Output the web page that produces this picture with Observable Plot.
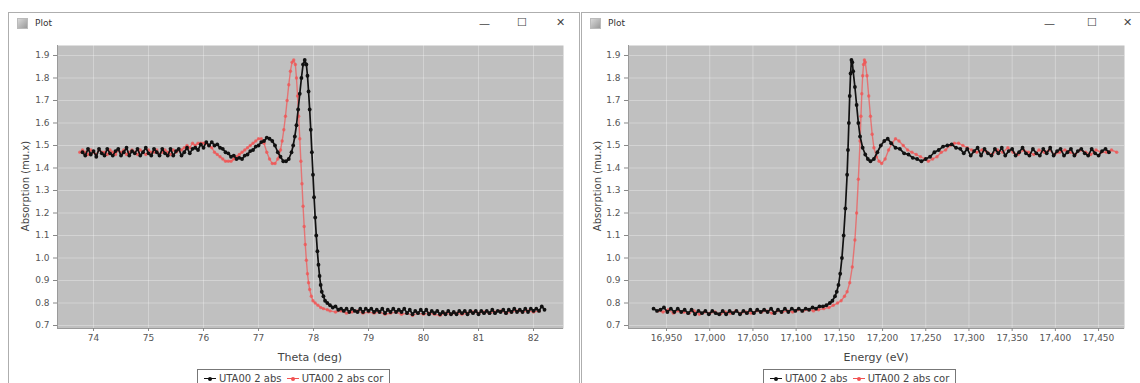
<!DOCTYPE html>
<html><head><meta charset="utf-8">
<script src="https://cdn.jsdelivr.net/npm/d3@7"></script>
<script src="https://cdn.jsdelivr.net/npm/@observablehq/plot@0.6"></script>
<style>
body{margin:0;width:1140px;height:383px;overflow:hidden;background:#fff;position:relative;font-family:"DejaVu Sans",sans-serif}
.win{position:absolute;border:1px solid #aeaeae;background:#fff;box-sizing:border-box}
.abs{position:absolute}
.ttl{font-size:9px;color:#333}
.icon{width:11px;height:11px;background:linear-gradient(135deg,#d8d8d8,#9a9a9a);border:1px solid #bbb;box-sizing:border-box}
.ctl{font-size:11px;color:#444;line-height:11px}
.axl{font-size:11px;color:#444;white-space:nowrap}
.legend{border:1px solid #777;height:18px;box-sizing:border-box;font-size:10px;color:#444;display:flex;align-items:center;justify-content:center;gap:5px;background:#fff}
.sym{display:inline-block;position:relative;width:12px;height:8px;vertical-align:middle}
.sym i{position:absolute;left:0;top:3.5px;width:12px;height:1.3px}
.sym b{position:absolute;left:4px;top:2px;width:4px;height:4px;border-radius:50%}
</style></head>
<body>
<div class="win" style="left:8px;top:12px;width:572px;height:380px"></div>
<div class="win" style="left:581px;top:12px;width:570px;height:380px"></div>
<div class="abs icon" style="left:17px;top:18px"></div>
<div class="abs ttl" style="left:35px;top:18px">Plot</div>
<div class="abs ctl" style="left:479px;top:18px">—</div>
<div class="abs ctl" style="left:517px;top:17px">☐</div>
<div class="abs ctl" style="left:556px;top:17px">✕</div>
<div class="abs icon" style="left:590px;top:18px"></div>
<div class="abs ttl" style="left:608px;top:18px">Plot</div>
<div class="abs ctl" style="left:1044px;top:18px">—</div>
<div class="abs ctl" style="left:1087px;top:17px">☐</div>
<div class="abs ctl" style="left:1123px;top:17px">✕</div>
<div id="c1" class="abs" style="left:8px;top:39px"></div>
<div id="c2" class="abs" style="left:581px;top:39px"></div>
<div class="abs axl" style="left:310px;top:351px;transform:translateX(-50%)">Theta (deg)</div>
<div class="abs axl" style="left:876px;top:351px;transform:translateX(-50%)">Energy (eV)</div>
<div class="abs axl" style="left:25px;top:186px;transform:translate(-50%,-50%) rotate(-90deg);font-size:10px">Absorption (mu.x)</div>
<div class="abs axl" style="left:597px;top:186px;transform:translate(-50%,-50%) rotate(-90deg);font-size:10px">Absorption (mu.x)</div>
<div id="lg1" class="abs legend" style="left:197px;top:369px;width:193px"></div>
<div id="lg2" class="abs legend" style="left:763px;top:369px;width:193px"></div>
<script>
// ---- data ----
const seriesNames = ["UTA00 2 abs", "UTA00 2 abs cor"];
const yTicks = [0.7,0.8,0.9,1.0,1.1,1.2,1.3,1.4,1.5,1.6,1.7,1.8,1.9];
const thetaTicks = [74,75,76,77,78,79,80,81,82];
const energyTicks = [16950,17000,17050,17100,17150,17200,17250,17300,17350,17400,17450];

// Absorption vs theta, black series [theta, abs]
const thetaBlack = [
[73.80,1.47],[73.85,1.455],[73.90,1.485],[73.95,1.46],[74.00,1.475],[74.05,1.45],[74.10,1.485],[74.15,1.465],[74.20,1.455],[74.25,1.485],
[74.30,1.465],[74.35,1.455],[74.40,1.475],[74.45,1.485],[74.50,1.455],[74.55,1.47],[74.60,1.49],[74.65,1.455],[74.70,1.475],[74.75,1.465],
[74.80,1.485],[74.85,1.455],[74.90,1.47],[74.95,1.49],[75.00,1.465],[75.05,1.455],[75.10,1.485],[75.15,1.47],[75.20,1.455],[75.25,1.485],
[75.30,1.465],[75.35,1.455],[75.40,1.485],[75.45,1.455],[75.50,1.475],[75.55,1.485],[75.60,1.455],[75.65,1.47],[75.70,1.49],[75.75,1.465],
[75.80,1.485],[75.85,1.49],[75.90,1.48],[75.95,1.505],[76.00,1.49],[76.05,1.515],[76.10,1.50],[76.15,1.515],[76.20,1.50],[76.25,1.505],
[76.30,1.49],[76.35,1.485],[76.40,1.47],[76.45,1.465],[76.50,1.45],[76.55,1.455],[76.60,1.44],[76.65,1.445],[76.70,1.44],[76.75,1.455],
[76.80,1.46],[76.85,1.475],[76.90,1.48],[76.95,1.495],[77.00,1.50],[77.05,1.515],[77.10,1.52],[77.15,1.535],[77.20,1.53],[77.25,1.52],
[77.30,1.50],[77.35,1.47],[77.40,1.45],[77.45,1.43],[77.50,1.43],[77.55,1.44],[77.60,1.47],[77.63,1.50],[77.66,1.54],[77.69,1.59],
[77.72,1.66],[77.75,1.73],[77.78,1.80],[77.81,1.86],[77.84,1.88],[77.87,1.86],[77.89,1.81],[77.91,1.74],[77.93,1.66],[77.95,1.57],
[77.97,1.47],[77.99,1.37],[78.01,1.27],[78.03,1.18],[78.05,1.10],[78.07,1.03],[78.09,0.97],[78.11,0.92],[78.13,0.88],[78.15,0.85],
[78.18,0.83],[78.21,0.81],[78.25,0.80],[78.30,0.79],[78.35,0.78],[78.40,0.785],[78.45,0.77],[78.50,0.775],
[78.55,0.765],[78.60,0.775],[78.65,0.76],[78.70,0.775],[78.75,0.765],[78.80,0.76],[78.85,0.775],[78.90,0.76],[78.95,0.775],[79.00,0.765],
[79.05,0.775],[79.10,0.76],[79.15,0.77],[79.20,0.76],[79.25,0.775],[79.30,0.755],[79.35,0.77],[79.40,0.76],[79.45,0.775],[79.50,0.76],
[79.55,0.77],[79.60,0.76],[79.65,0.775],[79.70,0.755],[79.75,0.77],[79.80,0.75],[79.85,0.765],[79.90,0.755],[79.95,0.77],[80.00,0.755],
[80.05,0.77],[80.10,0.75],[80.15,0.765],[80.20,0.755],[80.25,0.765],[80.30,0.75],[80.35,0.76],[80.40,0.75],[80.45,0.765],[80.50,0.75],
[80.55,0.76],[80.60,0.75],[80.65,0.765],[80.70,0.755],[80.75,0.765],[80.80,0.75],[80.85,0.765],[80.90,0.755],[80.95,0.765],[81.00,0.75],
[81.05,0.765],[81.10,0.755],[81.15,0.765],[81.20,0.755],[81.25,0.77],[81.30,0.755],[81.35,0.765],[81.40,0.76],[81.45,0.77],[81.50,0.755],
[81.55,0.77],[81.60,0.76],[81.65,0.775],[81.70,0.76],[81.75,0.77],[81.80,0.76],[81.85,0.775],[81.90,0.76],[81.95,0.775],[82.00,0.765],
[82.05,0.775],[82.10,0.765],[82.15,0.785],[82.20,0.77]
];

// Absorption vs theta, red (corrected) series [theta, abs]
const thetaRed = [
[73.75,1.47],[73.80,1.48],[73.85,1.47],[73.90,1.46],[73.95,1.48],[74.00,1.47],[74.05,1.46],[74.10,1.48],[74.15,1.47],[74.20,1.47],
[74.25,1.46],[74.30,1.48],[74.35,1.47],[74.40,1.46],[74.45,1.48],[74.50,1.47],[74.55,1.48],[74.60,1.46],[74.65,1.47],[74.70,1.48],
[74.75,1.47],[74.80,1.46],[74.85,1.48],[74.90,1.47],[74.95,1.46],[75.00,1.48],[75.05,1.47],[75.10,1.47],[75.15,1.48],[75.20,1.46],
[75.25,1.47],[75.30,1.48],[75.35,1.47],[75.40,1.46],[75.45,1.48],[75.50,1.47],[75.55,1.48],
[75.60,1.48],[75.65,1.49],[75.70,1.50],[75.75,1.49],[75.80,1.51],[75.85,1.50],[75.90,1.51],[75.95,1.51],[76.00,1.51],[76.05,1.51],
[76.10,1.50],[76.15,1.49],[76.20,1.47],[76.25,1.46],[76.30,1.45],[76.35,1.44],[76.40,1.43],[76.45,1.43],[76.50,1.43],[76.55,1.44],
[76.60,1.45],[76.65,1.46],[76.70,1.47],[76.75,1.48],[76.80,1.49],[76.85,1.50],[76.90,1.51],[76.95,1.52],[77.00,1.53],[77.05,1.53],
[77.10,1.51],[77.15,1.47],[77.20,1.44],[77.25,1.42],[77.30,1.42],[77.35,1.44],[77.40,1.48],[77.43,1.52],[77.46,1.57],[77.49,1.63],
[77.52,1.70],[77.55,1.77],[77.58,1.83],[77.61,1.87],[77.64,1.88],[77.67,1.86],[77.69,1.80],[77.71,1.72],[77.73,1.63],[77.75,1.53],
[77.77,1.43],[77.79,1.33],[77.81,1.23],[77.83,1.14],[77.85,1.06],[77.87,0.99],[77.89,0.93],[77.91,0.89],[77.93,0.86],[77.96,0.83],
[77.99,0.81],[78.03,0.80],[78.08,0.79],[78.13,0.78],[78.18,0.775],[78.25,0.77],
[78.30,0.765],[78.40,0.76],[78.50,0.765],[78.60,0.755],[78.70,0.76],[78.80,0.765],[78.90,0.755],[79.00,0.76],[79.10,0.755],[79.20,0.76],
[79.30,0.75],[79.40,0.755],[79.50,0.76],[79.60,0.75],[79.70,0.755],[79.80,0.745],[79.90,0.755],[80.00,0.75],[80.10,0.755],[80.20,0.75],
[80.30,0.745],[80.40,0.755],[80.50,0.75],[80.60,0.755],[80.70,0.75],[80.80,0.755],[80.90,0.76],[81.00,0.755],[81.10,0.76],[81.20,0.755],
[81.30,0.76],[81.40,0.765],[81.50,0.755],[81.60,0.76],[81.70,0.765],[81.80,0.76],[81.90,0.765],[82.00,0.76],[82.10,0.765]
];

// Absorption vs energy, black series [eV, abs]
const energyBlack = [
[16935,0.775],[16939,0.765],[16943,0.77],[16947,0.78],[16951,0.76],[16955,0.775],[16959,0.76],[16963,0.775],[16967,0.76],[16971,0.77],
[16975,0.755],[16979,0.77],[16983,0.75],[16987,0.765],[16991,0.755],[16995,0.765],[16999,0.75],[17003,0.765],[17007,0.755],[17011,0.75],
[17015,0.765],[17019,0.75],[17023,0.765],[17027,0.755],[17031,0.765],[17035,0.75],[17039,0.765],[17043,0.755],[17047,0.77],[17051,0.755],
[17055,0.77],[17059,0.76],[17063,0.77],[17067,0.76],[17071,0.775],[17075,0.755],[17079,0.77],[17083,0.76],[17087,0.775],[17091,0.76],
[17095,0.775],[17099,0.765],[17103,0.775],[17107,0.765],[17111,0.775],[17115,0.77],
[17119,0.78],[17123,0.775],[17127,0.785],[17131,0.785],[17135,0.79],[17139,0.80],[17142,0.81],[17145,0.83],[17147,0.85],[17149,0.88],
[17151,0.93],[17153,1.00],[17155,1.10],[17157,1.22],[17159,1.37],[17160,1.48],[17161,1.60],[17162,1.72],[17163,1.82],[17164,1.88],
[17165,1.87],[17166,1.83],[17168,1.76],[17170,1.68],[17172,1.60],[17174,1.54],[17177,1.49],[17180,1.46],[17183,1.44],[17186,1.43],
[17190,1.44],[17194,1.47],[17198,1.50],[17202,1.52],[17206,1.53],[17210,1.51],[17215,1.49],[17220,1.485],[17225,1.465],[17230,1.46],
[17235,1.445],[17240,1.44],[17245,1.43],[17250,1.44],[17255,1.45],[17260,1.47],[17265,1.48],[17270,1.495],[17275,1.50],[17280,1.505],
[17285,1.49],[17290,1.485],
[17294,1.465],[17298,1.485],[17302,1.455],[17306,1.475],[17310,1.49],[17314,1.455],[17318,1.485],[17322,1.465],[17326,1.455],[17330,1.485],
[17334,1.465],[17338,1.49],[17342,1.455],[17346,1.475],[17350,1.485],[17354,1.455],[17358,1.47],[17362,1.49],[17366,1.465],[17370,1.455],
[17374,1.485],[17378,1.465],[17382,1.455],[17386,1.485],[17390,1.465],[17394,1.49],[17398,1.455],[17402,1.475],[17406,1.485],[17410,1.455],
[17414,1.47],[17418,1.485],[17422,1.455],[17426,1.475],[17430,1.485],[17434,1.465],[17438,1.455],[17442,1.485],[17446,1.465],[17450,1.455],
[17454,1.475],[17458,1.485],[17462,1.47]
];

// Absorption vs energy, red (corrected) series [eV, abs]
const energyRed = [
[16940,0.765],[16946,0.76],[16952,0.77],[16958,0.755],[16964,0.765],[16970,0.76],[16976,0.755],[16982,0.765],[16988,0.75],[16994,0.76],
[17000,0.755],[17006,0.76],[17012,0.75],[17018,0.76],[17024,0.755],[17030,0.765],[17036,0.755],[17042,0.76],[17048,0.755],[17054,0.765],
[17060,0.76],[17066,0.765],[17072,0.755],[17078,0.765],[17084,0.76],[17090,0.765],[17096,0.76],[17102,0.77],[17108,0.765],[17114,0.77],[17120,0.765],
[17126,0.77],[17132,0.775],[17138,0.78],[17143,0.79],[17148,0.80],[17152,0.81],[17156,0.83],[17159,0.85],[17162,0.89],[17165,0.96],
[17168,1.08],[17170,1.20],[17172,1.35],[17174,1.52],[17175,1.63],[17176,1.73],[17177,1.81],[17178,1.86],[17179,1.88],[17180,1.87],
[17182,1.81],[17184,1.72],[17186,1.63],[17188,1.55],[17190,1.49],[17193,1.45],[17196,1.43],[17199,1.42],[17203,1.44],[17207,1.48],
[17211,1.51],[17215,1.53],[17219,1.52],[17224,1.50],[17229,1.48],[17234,1.47],[17239,1.46],[17244,1.45],[17249,1.44],[17253,1.43],
[17258,1.44],[17263,1.45],[17268,1.47],[17273,1.48],[17278,1.50],[17283,1.51],[17288,1.51],[17293,1.50],[17298,1.49],[17303,1.48],
[17309,1.47],[17315,1.48],[17321,1.47],[17327,1.46],[17333,1.48],[17339,1.47],[17345,1.49],[17351,1.47],[17357,1.46],[17363,1.48],
[17369,1.47],[17375,1.46],[17381,1.48],[17387,1.47],[17393,1.48],[17399,1.46],[17405,1.47],[17411,1.48],[17417,1.47],[17423,1.46],
[17429,1.48],[17435,1.47],[17441,1.46],[17447,1.48],[17453,1.47],[17459,1.47],[17465,1.48],[17471,1.47]
];

const blackColor = "#111111";
const redColor = "#f25252";

function chart(black, red, xDomain, xTicks, xFmt, width, ml, mr) {
  const b = black.map(([x, y]) => ({x, y}));
  const r = red.map(([x, y]) => ({x, y}));
  const yDomain = [0.6867, 1.9444];
  return Plot.plot({
    width, height: 310,
    marginLeft: ml, marginRight: mr, marginTop: 6, marginBottom: 21,
    style: {background: "transparent", fontFamily: "DejaVu Sans, sans-serif", fontSize: "9px", color: "#555", overflow: "visible"},
    x: {domain: xDomain, axis: null},
    y: {domain: yDomain, axis: null},
    marks: [
      Plot.frame({fill: "#c0c0c0"}),
      Plot.gridX(xTicks, {stroke: "#ffffff", strokeOpacity: 0.3}),
      Plot.gridY(yTicks, {stroke: "#ffffff", strokeOpacity: 0.3}),
      Plot.ruleY([yDomain[0]], {stroke: "#9a9a9a"}),
      Plot.ruleX([xDomain[0]], {stroke: "#9a9a9a"}),
      Plot.line(r, {x: "x", y: "y", stroke: redColor, strokeWidth: 1.4, strokeOpacity: 0.7}),
      Plot.dot(r, {x: "x", y: "y", r: 1.7, fill: redColor, fillOpacity: 0.75}),
      Plot.line(b, {x: "x", y: "y", stroke: blackColor, strokeWidth: 1.7}),
      Plot.dot(b, {x: "x", y: "y", r: 1.9, fill: blackColor}),
      Plot.axisX(xTicks, {tickFormat: xFmt, tickSize: 3, tickPadding: 3, stroke: "#888", label: null, fill: "#555"}),
      Plot.axisY(yTicks, {tickFormat: d3.format(".1f"), tickSize: 4, tickPadding: 4, stroke: "#888", label: null, fill: "#555"})
    ]
  });
}

document.getElementById("c1").append(
  chart(thetaBlack, thetaRed, [73.345, 82.545], thetaTicks, d3.format("d"), 572, 49, 17));
document.getElementById("c2").append(
  chart(energyBlack, energyRed, [16906, 17480], energyTicks, d3.format(","), 557, 47, 14));

function legend(el) {
  const colors = [blackColor, redColor];
  seriesNames.forEach((name, i) => {
    const item = document.createElement("span");
    item.innerHTML = `<span class="sym"><i style="background:${colors[i]}"></i><b style="background:${colors[i]}"></b></span> ${name}`;
    el.append(item);
  });
}
legend(document.getElementById("lg1"));
legend(document.getElementById("lg2"));
</script>
</body></html>
